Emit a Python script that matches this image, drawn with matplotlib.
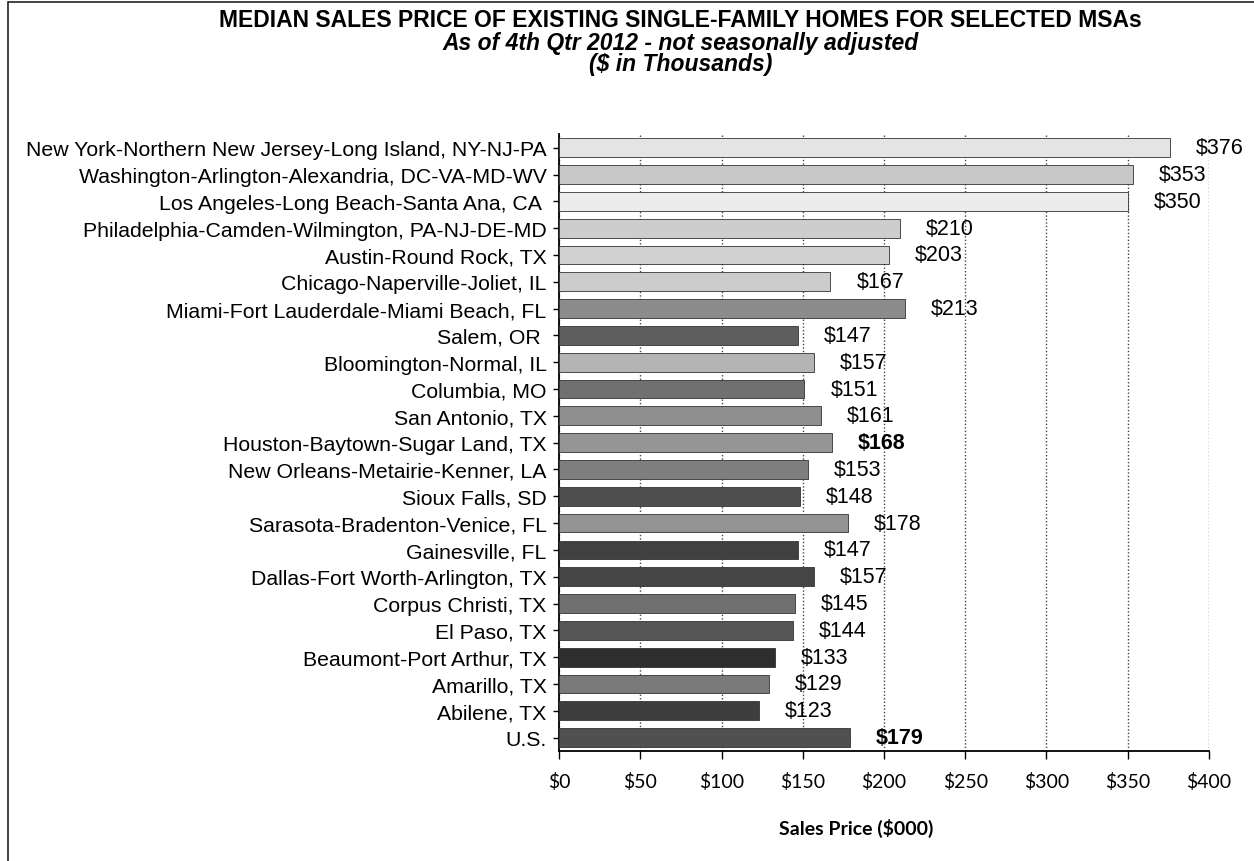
import numpy as np
import matplotlib.pyplot as plt
from matplotlib.patches import Rectangle

# Median sales price, 4th Qtr 2012 ($000)
msas = ["New York-Northern New Jersey-Long Island, NY-NJ-PA",
        "Washington-Arlington-Alexandria, DC-VA-MD-WV",
        "Los Angeles-Long Beach-Santa Ana, CA ",
        "Philadelphia-Camden-Wilmington, PA-NJ-DE-MD",
        "Austin-Round Rock, TX",
        "Chicago-Naperville-Joliet, IL",
        "Miami-Fort Lauderdale-Miami Beach, FL",
        "Salem, OR ",
        "Bloomington-Normal, IL",
        "Columbia, MO",
        "San Antonio, TX",
        "Houston-Baytown-Sugar Land, TX",
        "New Orleans-Metairie-Kenner, LA",
        "Sioux Falls, SD",
        "Sarasota-Bradenton-Venice, FL",
        "Gainesville, FL",
        "Dallas-Fort Worth-Arlington, TX",
        "Corpus Christi, TX",
        "El Paso, TX",
        "Beaumont-Port Arthur, TX",
        "Amarillo, TX",
        "Abilene, TX",
        "U.S."]
prices = [376, 353, 350, 210, 203, 167, 213, 147, 157, 151, 161, 168, 153,
          148, 178, 147, 157, 145, 144, 133, 129, 123, 179]
shades = ["#e4e4e4", "#c8c8c8", "#ececec", "#cdcdcd", "#d2d2d2", "#cccccc",
          "#8c8c8c", "#5e5e5e", "#b4b4b4", "#707070", "#8e8e8e", "#959595",
          "#7e7e7e", "#4e4e4e", "#939393", "#404040", "#454545", "#707070",
          "#555555", "#2e2e2e", "#7a7a7a", "#3e3e3e", "#505050"]
bold_labels = ["Houston-Baytown-Sugar Land, TX", "U.S."]
ticks = [0, 50, 100, 150, 200, 250, 300, 350, 400]

fig = plt.figure(figsize=(12.54, 8.62), dpi=100)
ax = fig.add_axes([0.4458, 0.1276, 0.5183, 0.7154])

y = np.arange(len(msas))
ax.barh(y, prices, height=0.7, color=shades, edgecolor="#333333",
        linewidth=0.6, zorder=3)

for yi, name, p in zip(y, msas, prices):
    w = "bold" if name in bold_labels else "normal"
    ax.text(p + 16, yi, f"${p}", va="center", ha="left", fontsize=15.5,
            family="Liberation Sans", fontweight=w, zorder=4)

ax.set_ylim(len(msas) - 0.5, -0.5)
ax.set_xlim(0, 400)
ax.set_yticks(y)
ax.set_yticklabels(msas, family="Liberation Sans", fontsize=15.3)
ax.set_xticks(ticks)
ax.set_xticklabels([f"${t}" for t in ticks], family="Lato", fontsize=14)
ax.tick_params(axis="y", length=4, width=1, pad=5)
ax.tick_params(axis="x", length=6, width=1, pad=9)
ax.grid(axis="x", color="#444444", linestyle=(0, (1, 1.5)), lw=1, zorder=1)
for s in ["top", "right"]:
    ax.spines[s].set_visible(False)
ax.spines["left"].set_linewidth(1.3)
ax.spines["bottom"].set_linewidth(1.3)
ax.set_xlabel("Sales Price ($000)", family="Lato", fontweight="bold",
              fontsize=14)
ax.xaxis.set_label_coords(0.457, -0.108)

fig.text(0.5425, 0.976, "MEDIAN SALES PRICE OF EXISTING SINGLE-FAMILY HOMES FOR SELECTED MSAs",
         ha="center", va="center", fontsize=16.5, fontweight="bold",
         family="Liberation Sans")
fig.text(0.5425, 0.950, "As of 4th Qtr 2012 - not seasonally adjusted",
         ha="center", va="center", fontsize=16.5, fontweight="bold",
         style="italic", family="Liberation Sans")
fig.text(0.5425, 0.925, "($ in Thousands)", ha="center", va="center",
         fontsize=16.5, fontweight="bold", style="italic",
         family="Liberation Sans")

# outer frame
fig.patches.append(Rectangle((0.006, -0.01), 1.2, 1.006, transform=fig.transFigure,
                             fill=False, edgecolor="#222222", lw=1.2))

fig.savefig("out.png", dpi=100)
